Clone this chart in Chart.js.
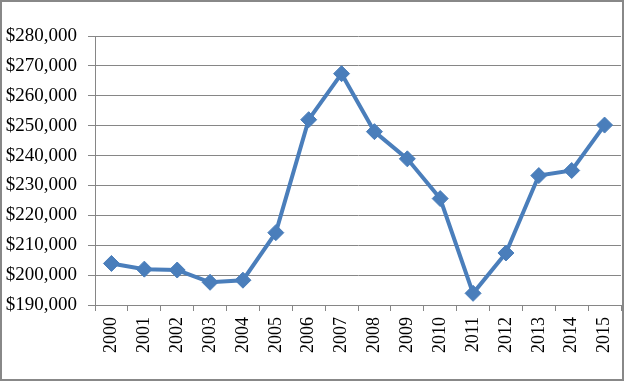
<!DOCTYPE html>
<html>
<head>
<meta charset="utf-8">
<script src="https://cdn.jsdelivr.net/npm/chart.js@4/dist/chart.umd.min.js"></script>
<style>
html,body{margin:0;padding:0;background:#fff;}
#wrap{width:624px;height:381px;position:relative;}
</style>
</head>
<body>
<div id="wrap"><canvas id="c" width="624" height="381"></canvas></div>
<script>
const years = ["2000","2001","2002","2003","2004","2005","2006","2007","2008","2009","2010","2011","2012","2013","2014","2015"];
const prices = [203900,202000,201700,197600,198300,214200,252000,267400,248000,238900,225600,193900,207400,233300,235000,250200];
const yMin = 190000;
const yMax = 280000;
const yStep = 10000;

const frame = {
  id: 'frame',
  beforeDraw(chart) {
    const ctx = chart.ctx;
    ctx.save();
    ctx.fillStyle = '#fff';
    ctx.fillRect(0, 0, chart.width, chart.height);
    ctx.restore();
  },
  afterDraw(chart) {
    const ctx = chart.ctx;
    ctx.save();
    ctx.strokeStyle = '#888888';
    ctx.lineWidth = 2;
    ctx.strokeRect(1, 1, chart.width - 2, chart.height - 2);
    ctx.restore();
  }
};

const fmt = v => '$' + v.toLocaleString('en-US');
const fontX = { family: '"Liberation Serif", "Times New Roman", serif', size: 18 };
const fontY = { family: '"Liberation Serif", "Times New Roman", serif', size: 19 };

new Chart(document.getElementById('c'), {
  type: 'line',
  data: {
    labels: years,
    datasets: [{
      data: prices,
      borderColor: '#4A7EBB',
      backgroundColor: '#4A7EBB',
      borderWidth: 4,
      pointStyle: 'rectRot',
      pointRadius: 8,
      pointHoverRadius: 8,
      pointBorderWidth: 1,
      pointBorderColor: '#4A7EBB',
      pointBackgroundColor: '#4A7EBB',
      tension: 0,
      clip: false
    }]
  },
  options: {
    responsive: false,
    animation: false,
    devicePixelRatio: 1,
    layout: { autoPadding: false, padding: { left: 0, right: 3, top: 36, bottom: 0 } },
    plugins: { legend: { display: false }, tooltip: { enabled: false } },
    scales: {
      x: {
        offset: true,
        afterFit(s) { s.height = 76; s.paddingLeft = 0; s.paddingRight = 0; },
        grid: { display: true, drawOnChartArea: false, drawTicks: true, tickLength: 6, color: '#868686', offset: true },
        border: { display: true, color: '#868686', width: 1 },
        ticks: { color: '#000', font: fontX, maxRotation: 90, minRotation: 90, padding: 6, autoSkip: false }
      },
      y: {
        min: yMin,
        max: yMax,
        afterFit(s) { s.width = 95; s.paddingTop = 0; s.paddingBottom = 0; },
        grid: { color: '#868686', tickLength: 7, lineWidth: 1 },
        border: { display: true, color: '#868686', width: 1 },
        ticks: { stepSize: yStep, color: '#000', font: fontY, padding: 11, callback: v => fmt(v) }
      }
    }
  },
  plugins: [frame]
});
</script>
</body>
</html>
